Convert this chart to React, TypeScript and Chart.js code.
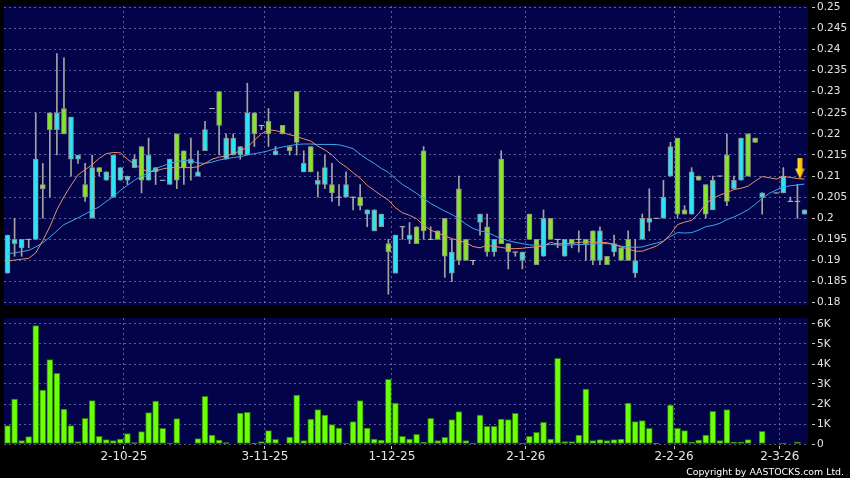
import React, { useEffect, useRef } from 'react';
import { Chart, registerables } from 'chart.js';

Chart.register(...registerables);
Chart.defaults.font.family = 'DejaVu Sans';

// ---- data (one entry per trading bar) ----
const opens: (number | null)[] = [
  0.187, 0.194, 0.193, 0.195, 0.195, 0.208, 0.225, 0.221, 0.226, 0.214,
  0.214, 0.208, 0.200, 0.212, 0.209, 0.205, 0.209, 0.209, 0.212, 0.217,
  0.209, 0.211, 0.209, 0.208, 0.220, 0.216, 0.213, 0.210, 0.216, 0.226,
  0.230, 0.214, 0.215, 0.215, 0.215, 0.225, 0.222, 0.223, 0.215, 0.222,
  0.217, 0.230, 0.211, 0.217, 0.208, 0.208, 0.208, 0.205, 0.205, 0.205,
  0.205, 0.201, 0.197, 0.198, 0.194, 0.187, 0.198, 0.195, 0.198, 0.216,
  0.195, 0.197, 0.200, 0.187, 0.207, 0.195, 0.190, 0.199, 0.198, 0.192,
  0.214, 0.194, 0.192, 0.190, 0.201, 0.195, 0.191, 0.200, 0.195, 0.191,
  0.195, 0.195, 0.195, 0.197, 0.190, 0.191, 0.192, 0.193, 0.195, 0.187,
  0.195, 0.199, 0.200, 0.200, 0.210, 0.219, 0.202, 0.201, 0.210, 0.208,
  0.202, 0.210, 0.215, 0.207, 0.209, 0.220, 0.219, 0.205, null, 0.206,
  0.206, 0.204, 0.204, 0.201,
];
const highs: (number | null)[] = [
  0.196, 0.200, 0.195, 0.195, 0.225, 0.213, 0.225, 0.239, 0.238, 0.224,
  0.215, 0.213, 0.215, 0.212, 0.211, 0.215, 0.212, 0.210, 0.215, 0.217,
  0.219, 0.212, 0.209, 0.214, 0.220, 0.216, 0.219, 0.216, 0.223, 0.226,
  0.230, 0.220, 0.220, 0.217, 0.232, 0.225, 0.222, 0.226, 0.217, 0.222,
  0.217, 0.230, 0.216, 0.217, 0.211, 0.215, 0.213, 0.208, 0.211, 0.205,
  0.208, 0.202, 0.202, 0.201, 0.195, 0.196, 0.198, 0.199, 0.198, 0.217,
  0.198, 0.197, 0.200, 0.195, 0.210, 0.195, 0.190, 0.201, 0.201, 0.195,
  0.216, 0.194, 0.192, 0.192, 0.201, 0.195, 0.202, 0.200, 0.195, 0.195,
  0.195, 0.197, 0.195, 0.197, 0.198, 0.191, 0.196, 0.193, 0.197, 0.195,
  0.201, 0.207, 0.200, 0.209, 0.218, 0.219, 0.203, 0.212, 0.210, 0.208,
  0.210, 0.210, 0.220, 0.210, 0.219, 0.220, 0.219, 0.206, null, 0.206,
  0.212, 0.205, 0.208, 0.202,
];
const lows: (number | null)[] = [
  0.187, 0.191, 0.191, 0.193, 0.195, 0.200, 0.205, 0.215, 0.220, 0.210,
  0.213, 0.204, 0.200, 0.210, 0.209, 0.205, 0.209, 0.208, 0.212, 0.206,
  0.209, 0.208, 0.209, 0.208, 0.207, 0.208, 0.209, 0.210, 0.216, 0.226,
  0.215, 0.214, 0.215, 0.214, 0.215, 0.217, 0.221, 0.217, 0.215, 0.220,
  0.215, 0.215, 0.211, 0.211, 0.205, 0.207, 0.204, 0.203, 0.205, 0.202,
  0.202, 0.198, 0.197, 0.198, 0.182, 0.187, 0.195, 0.194, 0.194, 0.195,
  0.195, 0.195, 0.186, 0.185, 0.189, 0.190, 0.189, 0.196, 0.191, 0.191,
  0.194, 0.188, 0.191, 0.188, 0.195, 0.189, 0.191, 0.195, 0.193, 0.191,
  0.193, 0.192, 0.190, 0.189, 0.189, 0.189, 0.191, 0.190, 0.190, 0.186,
  0.195, 0.197, 0.200, 0.200, 0.210, 0.200, 0.201, 0.201, 0.209, 0.200,
  0.202, 0.210, 0.203, 0.207, 0.209, 0.210, 0.218, 0.201, null, 0.206,
  0.206, 0.204, 0.200, 0.201,
];
const closes: (number | null)[] = [
  0.196, 0.195, 0.195, 0.195, 0.214, 0.207, 0.221, 0.225, 0.220, 0.224,
  0.215, 0.205, 0.212, 0.211, 0.211, 0.215, 0.212, 0.210, 0.214, 0.209,
  0.215, 0.212, 0.209, 0.214, 0.209, 0.212, 0.214, 0.211, 0.221, 0.226,
  0.222, 0.219, 0.219, 0.217, 0.225, 0.220, 0.222, 0.220, 0.216, 0.220,
  0.216, 0.218, 0.213, 0.211, 0.209, 0.212, 0.206, 0.205, 0.208, 0.205,
  0.203, 0.202, 0.202, 0.201, 0.192, 0.196, 0.198, 0.196, 0.194, 0.197,
  0.195, 0.195, 0.191, 0.192, 0.190, 0.190, 0.190, 0.201, 0.192, 0.195,
  0.194, 0.192, 0.192, 0.192, 0.195, 0.189, 0.200, 0.195, 0.195, 0.195,
  0.194, 0.195, 0.194, 0.190, 0.197, 0.189, 0.194, 0.190, 0.190, 0.190,
  0.200, 0.200, 0.200, 0.205, 0.217, 0.201, 0.201, 0.211, 0.209, 0.201,
  0.209, 0.210, 0.204, 0.209, 0.219, 0.210, 0.218, 0.206, null, 0.206,
  0.210, 0.204, 0.204, 0.202,
];
// volume in thousands
const volumes: number[] = [
  0.92, 2.25, 0.17, 0.37, 5.92, 2.70, 4.22, 3.53, 1.75, 0.92,
  0.12, 1.28, 2.17, 0.38, 0.22, 0.17, 0.25, 0.52, 0.07, 0.62,
  1.57, 2.15, 0.78, 0.05, 1.27, 0, 0, 0.27, 2.38, 0.45,
  0.20, 0.07, 0, 1.55, 1.58, 0.02, 0.12, 0.67, 0.23, 0,
  0.35, 2.45, 0.17, 1.25, 1.72, 1.45, 0.97, 0.80, 0.05, 1.12,
  2.17, 0.80, 0.25, 0.20, 3.23, 2.05, 0.38, 0.25, 0.48, 0.08,
  1.28, 0.17, 0.33, 1.22, 1.62, 0.17, 0.05, 1.45, 0.88, 0.88,
  1.25, 1.22, 1.53, 0.05, 0.38, 0.58, 1.08, 0.25, 4.28, 0.12,
  0.12, 0.45, 2.75, 0.17, 0.22, 0.17, 0.22, 0.25, 2.05, 1.12,
  1.17, 0.78, 0.03, 0, 1.95, 0.78, 0.67, 0.10, 0.20, 0.45,
  1.63, 0.17, 1.72, 0.10, 0.10, 0.22, 0, 0.63, 0, 0,
  0.05, 0, 0.10, 0,
];
const ma10: number[] = [
  0.1899, 0.1901, 0.1903, 0.1905, 0.1918, 0.1947, 0.1980, 0.2020, 0.2051, 0.2078,
  0.2103, 0.2115, 0.2127, 0.2142, 0.2153, 0.2156, 0.2155, 0.2140, 0.2128, 0.2117,
  0.2110, 0.2112, 0.2117, 0.2120, 0.2120, 0.2120, 0.2120, 0.2122, 0.2130, 0.2140,
  0.2145, 0.2148, 0.2153, 0.2160, 0.2168, 0.2185, 0.2200, 0.2209, 0.2208, 0.2203,
  0.2198, 0.2194, 0.2188, 0.2183, 0.2171, 0.2162, 0.2150, 0.2133, 0.2122, 0.2108,
  0.2095, 0.2078, 0.2066, 0.2054, 0.2043, 0.2025, 0.2013, 0.2007, 0.1999, 0.1983,
  0.1972, 0.1965, 0.1958, 0.1952, 0.1947, 0.1942, 0.1933, 0.1930, 0.1936, 0.1933,
  0.1931, 0.1928, 0.1928, 0.1929, 0.1931, 0.1932, 0.1934, 0.1943, 0.1939, 0.1940,
  0.1941, 0.1943, 0.1944, 0.1944, 0.1943, 0.1942, 0.1938, 0.1932, 0.1927, 0.1922,
  0.1922, 0.1928, 0.1934, 0.1945, 0.1962, 0.1985, 0.1991, 0.1995, 0.2011, 0.2035,
  0.2047, 0.2055, 0.2061, 0.2068, 0.2071, 0.2076, 0.2088, 0.2099, 0.2096, 0.2093,
  0.2099, 0.2097, 0.2094, 0.2093,
];
const ma20: number[] = [
  0.1916, 0.1918, 0.1921, 0.1924, 0.1932, 0.1942, 0.1955, 0.1970, 0.1985, 0.1993,
  0.2001, 0.2010, 0.2019, 0.2027, 0.2040, 0.2051, 0.2066, 0.2078, 0.2090, 0.2100,
  0.2107, 0.2118, 0.2124, 0.2130, 0.2134, 0.2137, 0.2136, 0.2131, 0.2130, 0.2133,
  0.2138, 0.2141, 0.2144, 0.2146, 0.2150, 0.2153, 0.2156, 0.2160, 0.2165, 0.2169,
  0.2172, 0.2175, 0.2176, 0.2176, 0.2175, 0.2175, 0.2175, 0.2174, 0.2170, 0.2165,
  0.2152, 0.2140, 0.2130, 0.2118, 0.2109, 0.2094, 0.2080, 0.2070, 0.2059, 0.2047,
  0.2035, 0.2026, 0.2017, 0.2009, 0.1999, 0.1986, 0.1976, 0.1970, 0.1967, 0.1959,
  0.1952, 0.1947, 0.1943, 0.1940, 0.1937, 0.1936, 0.1937, 0.1938, 0.1937, 0.1936,
  0.1937, 0.1938, 0.1938, 0.1939, 0.1940, 0.1940, 0.1938, 0.1934, 0.1932, 0.1931,
  0.1932, 0.1937, 0.1941, 0.1946, 0.1957, 0.1966, 0.1965, 0.1966, 0.1972, 0.1980,
  0.1983, 0.1988, 0.1997, 0.2003, 0.2011, 0.2020, 0.2033, 0.2047, 0.2059, 0.2067,
  0.2074, 0.2077, 0.2079, 0.2081,
];

const dateLabels = ['2-10-25', '3-11-25', '1-12-25', '2-1-26', '2-2-26', '2-3-26'];
const dateBarIndex = [17, 37, 55, 74, 95, 110];
const priceTicks = [0.18, 0.185, 0.19, 0.195, 0.2, 0.205, 0.21, 0.215, 0.22, 0.225, 0.23, 0.235, 0.24, 0.245, 0.25];
const volumeTicks = [0, 1, 2, 3, 4, 5, 6];
const volumeTickLabels = ['0', '1K', '2K', '3K', '4K', '5K', '6K'];

// ---- styles ----
const NAVY = '#03034a';
const GRID = 'rgba(150,150,210,0.6)';
const CYAN = '#2ee2f2';
const GREEN = '#88e42a';
const ORANGE = '#e89068';
const BLUE = '#3ea6ec';
const LABEL = '#e4e4e4';
const PRICE_MIN = 0.17945;
const PRICE_MAX = 0.2503;
const VOL_MAX = 6.3;

const bgPlugin = {
  id: 'navyBg',
  beforeDraw(chart: any) {
    const { ctx, chartArea: a } = chart;
    ctx.save();
    ctx.fillStyle = NAVY;
    ctx.fillRect(a.left, a.top, a.right - a.left, a.bottom - a.top);
    ctx.restore();
  },
};

function makeArrow(): HTMLCanvasElement {
  const c = document.createElement('canvas');
  c.width = 24;
  c.height = 44;
  const g = c.getContext('2d') as CanvasRenderingContext2D;
  const tx = 7.5;
  const ty = 22;
  const grad = g.createLinearGradient(tx - 5, 0, tx + 5, 0);
  grad.addColorStop(0, '#fff37a');
  grad.addColorStop(0.45, '#ffd200');
  grad.addColorStop(1, '#e69200');
  g.fillStyle = grad;
  g.beginPath();
  g.moveTo(tx - 2.5, 1);
  g.lineTo(tx + 2.5, 1);
  g.lineTo(tx + 2.5, 11.5);
  g.lineTo(tx + 4.8, 11.5);
  g.lineTo(tx, ty);
  g.lineTo(tx - 4.8, 11.5);
  g.lineTo(tx - 2.5, 11.5);
  g.closePath();
  g.fill();
  return c;
}

export default function App() {
  const priceRef = useRef<HTMLCanvasElement>(null);
  const volRef = useRef<HTMLCanvasElement>(null);

  useEffect(() => {
    const N = opens.length;
    const idx = opens.map((_, i) => i);
    const valid = idx.filter((i) => opens[i] !== null);
    const last = N - 1;

    const xBase = (showLabels: boolean) => ({
      type: 'linear' as const,
      min: -0.5,
      max: N - 0.5,
      bounds: 'data' as const,
      offset: false,
      afterBuildTicks: (s: any) => {
        s.ticks = dateBarIndex.map((i) => ({ value: i - 0.5 }));
      },
      afterFit: (s: any) => {
        s.height = showLabels ? 34 : 0;
        s.paddingLeft = 0;
        s.paddingRight = 0;
      },
      ticks: {
        display: showLabels,
        autoSkip: false,
        maxRotation: 0,
        color: LABEL,
        padding: 1,
        font: { size: 12 },
        callback: (_v: any, i: number) => dateLabels[i],
      },
      grid: {
        color: GRID,
        offset: false,
        drawTicks: showLabels,
        tickLength: 5,
        tickColor: '#c8c8c8',
        tickBorderDash: [0, 2, 3, 40],
      },
      border: { display: false, dash: [2, 3] },
    });

    const yBase = (min: number, max: number, ticks: number[], fmt: (v: number) => string) => ({
      position: 'right' as const,
      min,
      max,
      beginAtZero: false,
      afterBuildTicks: (s: any) => {
        s.ticks = ticks.map((v) => ({ value: v }));
      },
      afterFit: (s: any) => {
        s.width = 42;
        s.paddingTop = 0;
        s.paddingBottom = 0;
      },
      ticks: {
        autoSkip: false,
        color: LABEL,
        padding: 2,
        font: { size: 10.5 },
        callback: (v: any) => fmt(Number(v)),
      },
      grid: {
        color: GRID,
        drawTicks: true,
        tickLength: 7,
        tickColor: '#c8c8c8',
        tickBorderDash: [0, 4, 3, 40],
      },
      border: { display: false, dash: [2, 3] },
    });

    const pc = new Chart(priceRef.current as HTMLCanvasElement, {
      type: 'bar',
      data: {
        datasets: [
          {
            type: 'line',
            label: 'arrow',
            data: [{ x: last, y: ma10[last] }],
            showLine: false,
            pointStyle: makeArrow() as any,
            pointRadius: 10,
            order: -1,
          } as any,
          {
            type: 'line',
            label: 'MA10',
            data: ma10.map((v, i) => ({ x: i, y: v })),
            borderColor: ORANGE,
            borderWidth: 1,
            pointRadius: 0,
            tension: 0,
            order: 0,
          },
          {
            type: 'line',
            label: 'MA20',
            data: ma20.map((v, i) => ({ x: i, y: v })),
            borderColor: BLUE,
            borderWidth: 1,
            pointRadius: 0,
            tension: 0,
            order: 0,
          },
          {
            type: 'line',
            label: 'doji',
            data: valid.filter((i) => opens[i] === closes[i]).map((i) => ({ x: i, y: closes[i] })),
            showLine: false,
            pointStyle: 'line',
            pointRadius: 2.8,
            borderColor: '#b8b8b8',
            borderWidth: 1,
            order: 1,
          },
          {
            type: 'bar',
            label: 'body',
            data: valid.filter((i) => opens[i] !== closes[i]).map((i) => ({ x: i, y: [opens[i], closes[i]] })),
            backgroundColor: (c: any) => {
              const r = c.raw && c.raw.y;
              return r && r[1] > r[0] ? CYAN : GREEN;
            },
            borderColor: '#8e8e8e',
            borderWidth: 1,
            borderSkipped: false,
            barThickness: 5,
            grouped: false,
            order: 2,
          } as any,
          {
            type: 'bar',
            label: 'wick',
            data: valid.map((i) => ({ x: i, y: [lows[i], highs[i]] })),
            backgroundColor: '#a4a4a4',
            borderWidth: 0,
            barThickness: 1,
            grouped: false,
            order: 3,
          } as any,
        ],
      },
      options: {
        animation: false,
        responsive: false,
        devicePixelRatio: 1,
        events: [],
        layout: { autoPadding: false, padding: { left: 4, top: 6, right: 0, bottom: 5 } },
        plugins: { legend: { display: false }, tooltip: { enabled: false } },
        scales: {
          x: xBase(false) as any,
          y: yBase(PRICE_MIN, PRICE_MAX, priceTicks, (v) => String(Number(v.toFixed(3)))) as any,
        },
      },
      plugins: [bgPlugin],
    });

    const vc = new Chart(volRef.current as HTMLCanvasElement, {
      type: 'bar',
      data: {
        datasets: [
          {
            label: 'Volume',
            data: idx.filter((i) => volumes[i] > 0).map((i) => ({ x: i, y: volumes[i] })),
            backgroundColor: '#6cff0a',
            borderColor: '#2f7d00',
            borderWidth: 1,
            borderSkipped: false,
            barThickness: 6,
            grouped: false,
          } as any,
        ],
      },
      options: {
        animation: false,
        responsive: false,
        devicePixelRatio: 1,
        events: [],
        layout: { autoPadding: false, padding: { left: 4, top: 8, right: 0, bottom: 0 } },
        plugins: { legend: { display: false }, tooltip: { enabled: false } },
        scales: {
          x: xBase(true) as any,
          y: yBase(0, VOL_MAX, volumeTicks, (v) => volumeTickLabels[volumeTicks.indexOf(Math.round(v))]) as any,
        },
      },
      plugins: [bgPlugin],
    });

    return () => {
      pc.destroy();
      vc.destroy();
    };
  }, []);

  return (
    <div style={{ position: 'fixed', left: 0, top: 0, width: 850, height: 478, background: '#000', overflow: 'hidden' }}>
      <canvas ref={priceRef} width={850} height={310} style={{ position: 'absolute', left: 0, top: 0, width: 850, height: 310 }} />
      <canvas ref={volRef} width={850} height={168} style={{ position: 'absolute', left: 0, top: 310, width: 850, height: 168 }} />
      <div
        style={{
          position: 'absolute',
          right: 6,
          top: 466,
          font: '9.4px "DejaVu Sans"',
          lineHeight: '11px',
          color: '#ffffff',
          whiteSpace: 'nowrap',
        }}
      >
        Copyright by AASTOCKS.com Ltd.
      </div>
    </div>
  );
}
